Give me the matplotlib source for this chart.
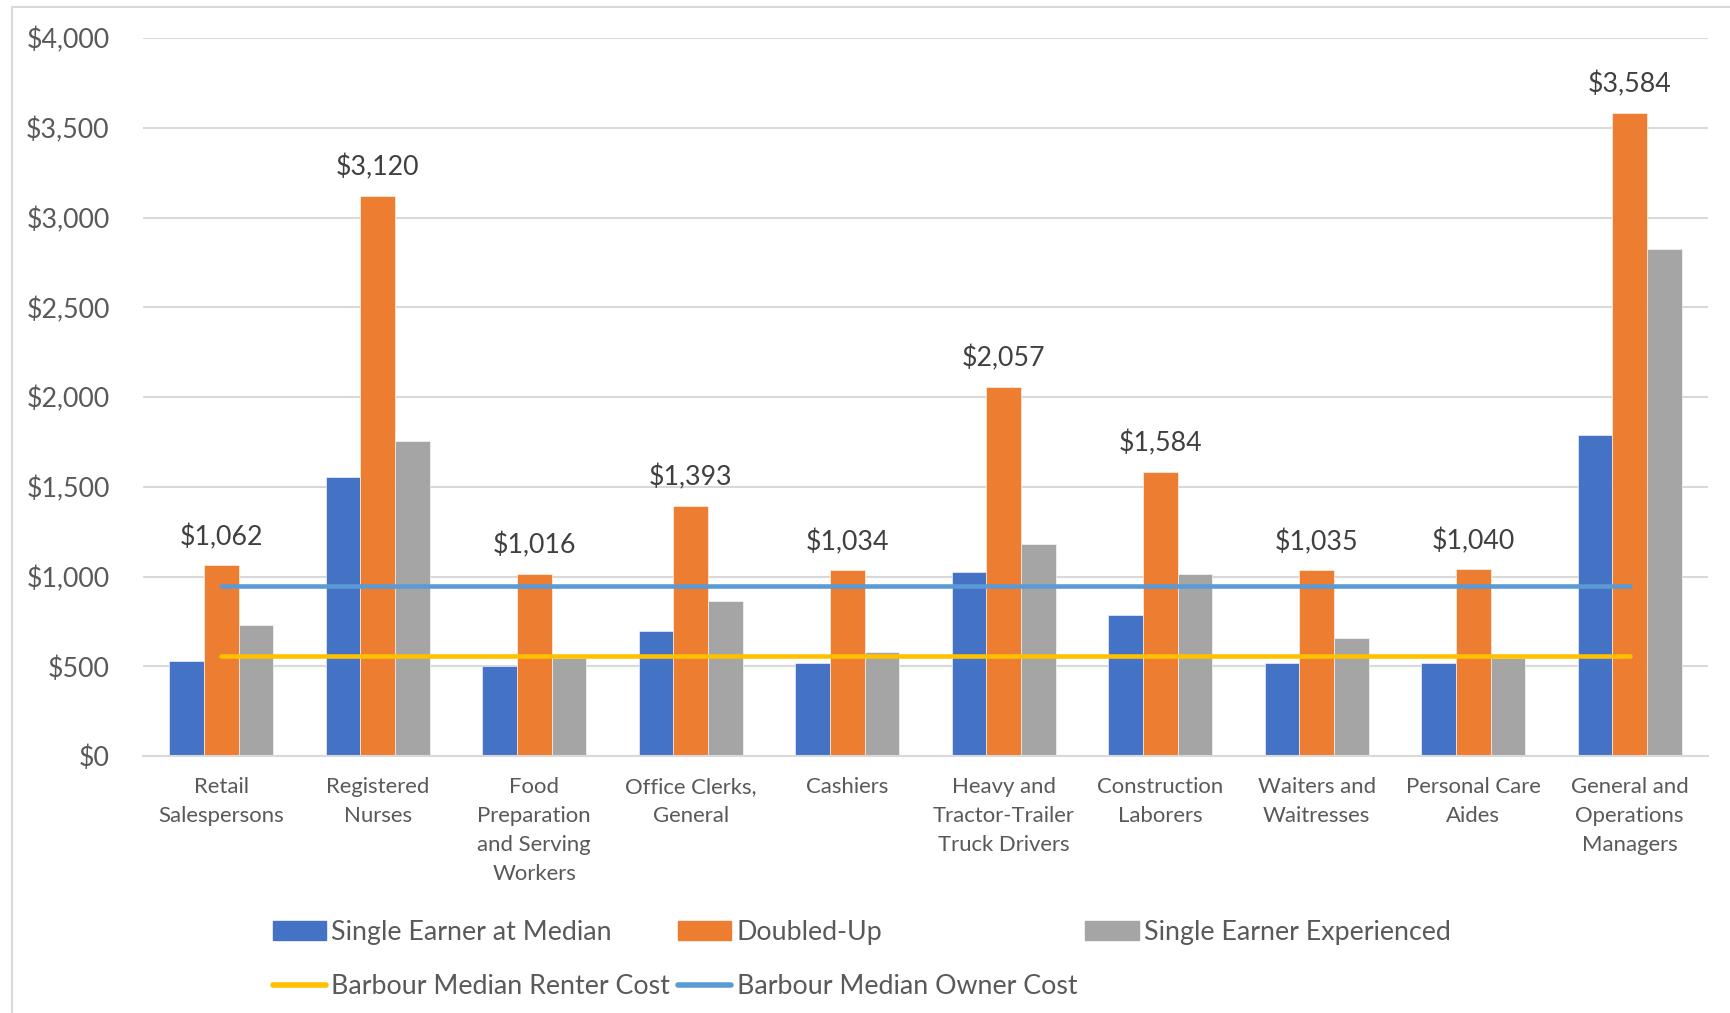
import numpy as np
import matplotlib.pyplot as plt
from matplotlib.patches import Patch, Rectangle
from matplotlib.lines import Line2D

plt.rcParams['font.family'] = ['Lato', 'DejaVu Sans']

# monthly housing budget by occupation
occupations = ['Retail\nSalespersons', 'Registered\nNurses',
               'Food\nPreparation\nand Serving\nWorkers', 'Office Clerks,\nGeneral',
               'Cashiers', 'Heavy and\nTractor-Trailer\nTruck Drivers',
               'Construction\nLaborers', 'Waiters and\nWaitresses',
               'Personal Care\nAides', 'General and\nOperations\nManagers']
single_median = [528, 1554, 504, 694, 516, 1026, 786, 516, 516, 1788]
doubled_up = [1062, 3120, 1016, 1393, 1034, 2057, 1584, 1035, 1040, 3584]
single_experienced = [731, 1757, 547, 866, 578, 1180, 1014, 657, 547, 2826]
renter_cost = [559, 559, 559, 559, 559, 559, 559, 559, 559, 559]
owner_cost = [947, 947, 947, 947, 947, 947, 947, 947, 947, 947]
y_ticks = [0, 500, 1000, 1500, 2000, 2500, 3000, 3500, 4000]

BLUE = '#4472C4'
ORANGE = '#ED7D31'
GRAY = '#A5A5A5'
YELLOW = '#FFC000'
LIGHT_BLUE = '#5B9BD5'
GRID = '#D9D9D9'

fig = plt.figure(figsize=(17.3, 10.13), dpi=100)
ax = fig.add_axes([143 / 1730, 1 - 756 / 1013, (1708 - 143) / 1730, (756 - 38) / 1013])

# chart area border
fig.patches.append(Rectangle((12 / 1730, -0.1), 1.2, 1 - 7 / 1013 + 0.1,
                             transform=fig.transFigure, fill=False,
                             edgecolor=GRID, linewidth=1.5))

x = np.arange(len(occupations))
w = 1 / 4.5
ax.bar(x - w, single_median, w, color=BLUE, edgecolor='white', linewidth=0.4, zorder=2)
ax.bar(x, doubled_up, w, color=ORANGE, edgecolor='white', linewidth=0.4, zorder=2)
ax.bar(x + w, single_experienced, w, color=GRAY, edgecolor='white', linewidth=0.4, zorder=2)

ax.plot(x, renter_cost, color=YELLOW, lw=3.3, solid_capstyle='round', zorder=3)
ax.plot(x, owner_cost, color=LIGHT_BLUE, lw=3.3, solid_capstyle='round', zorder=3)

for xi, v in zip(x, doubled_up):
    ax.annotate('${:,}'.format(v), (xi, v), xytext=(0, 11), textcoords='offset points',
                ha='center', va='bottom', fontsize=19.3, color='#404040')

ax.set_xlim(-0.5, len(occupations) - 0.5)
ax.set_ylim(0, 4000)
ax.set_yticks(y_ticks)
ax.set_yticklabels(['${:,}'.format(t) for t in y_ticks])
ax.set_xticks(x)
ax.set_xticklabels(occupations, linespacing=1.56)
ax.tick_params(axis='y', length=0, pad=24, labelsize=19.3, labelcolor='#595959')
ax.tick_params(axis='x', length=0, pad=15, labelsize=15.9, labelcolor='#595959')
ax.grid(axis='y', color=GRID, linewidth=1.5, zorder=0)
for s in ['top', 'right', 'left']:
    ax.spines[s].set_visible(False)
ax.spines['bottom'].set_color(GRID)
ax.spines['bottom'].set_linewidth(1.5)

handles = [Patch(color=BLUE, label='Single Earner at Median'),
           Line2D([], [], color=YELLOW, lw=4, solid_capstyle='round', label='Barbour Median Renter Cost'),
           Patch(color=ORANGE, label='Doubled-Up'),
           Line2D([], [], color=LIGHT_BLUE, lw=4, solid_capstyle='round', label='Barbour Median Owner Cost'),
           Patch(color=GRAY, label='Single Earner Experienced')]
fig.legend(handles=handles, ncol=3, loc='upper left', bbox_to_anchor=(273 / 1730, 1 - 920 / 1013),
           frameon=False, fontsize=19.3, handlelength=1.98, handletextpad=0.2,
           columnspacing=0.3, labelspacing=1.1, borderpad=0, borderaxespad=0,
           labelcolor='#595959')

fig.savefig('out.png', dpi=100)
